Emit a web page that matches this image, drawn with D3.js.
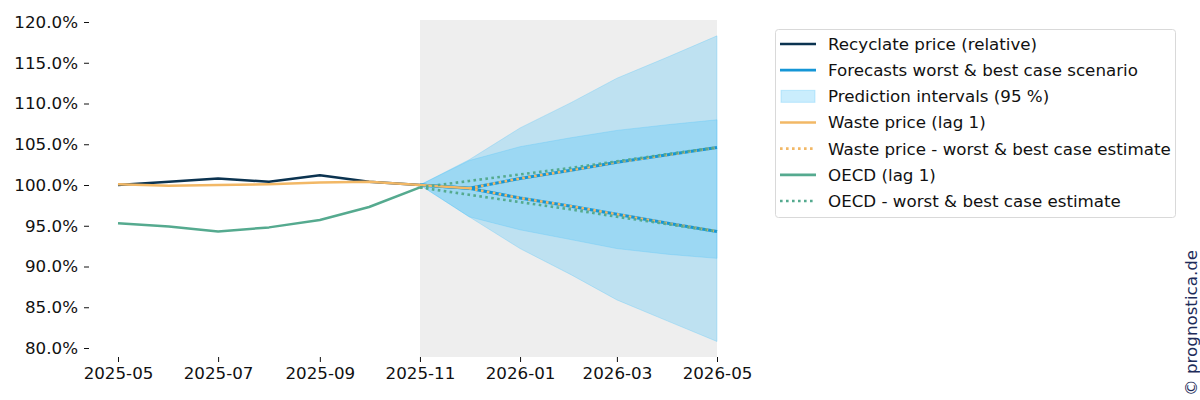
<!DOCTYPE html>
<html>
<head>
<meta charset="utf-8">
<script src="https://cdnjs.cloudflare.com/ajax/libs/d3/7.8.5/d3.min.js"></script>
<style>
  body { margin: 0; background: #fff; }
  svg text { font-family: "DejaVu Sans", sans-serif; }
</style>
</head>
<body>
<svg id="chart" width="1200" height="400"></svg>
<script>
// ---- data ----
var histMonths = ["2025-05","2025-06","2025-07","2025-08","2025-09","2025-10","2025-11"];
var recyclate  = [100.0, 100.4, 100.8, 100.4, 101.2, 100.4, 100.0];
var wasteHist  = [100.1, 99.9, 100.0, 100.1, 100.3, 100.4, 100.0];
var oecdHist   = [95.3, 94.9, 94.3, 94.8, 95.7, 97.3, 99.7];

var fcMonths   = ["2025-11","2025-12","2026-01","2026-02","2026-03","2026-04","2026-05"];
var fcBest     = [100.0, 99.6, 100.8, 101.8, 102.8, 103.7, 104.6];
var fcWorst    = [100.0, 99.6, 98.4, 97.4, 96.4, 95.3, 94.3];
var wasteFcStart = 99.6;   // solid waste line runs to 2025-12
var oecdBest   = [99.7, 100.5, 101.3, 102.1, 102.9, 103.8, 104.6];
var oecdWorst  = [99.7, 98.8, 97.9, 97.0, 96.1, 95.2, 94.3];

// prediction intervals (one band per scenario)
var piBestHi   = [100.0, 103.1, 107.0, 110.1, 113.1, 115.7, 118.3];
var piBestLo   = [100.0, 96.1, 94.5, 93.3, 92.2, 91.5, 91.0];
var piWorstHi  = [100.0, 103.0, 104.7, 105.8, 106.7, 107.4, 108.0];
var piWorstLo  = [100.0, 96.1, 92.2, 89.0, 85.9, 83.3, 80.8];

var xTicks = ["2025-05","2025-07","2025-09","2025-11","2026-01","2026-03","2026-05"];
var yTicks = [80, 85, 90, 95, 100, 105, 110, 115, 120];

var legendLabels = ["Recyclate price (relative)", "Forecasts worst & best case scenario",
  "Prediction intervals (95 %)", "Waste price (lag 1)", "Waste price - worst & best case estimate",
  "OECD (lag 1)", "OECD - worst & best case estimate"];

// ---- colours ----
var cNavy = "#0b3350", cBlue = "#1596d6", cOrange = "#f2b866", cGreen = "#55aa8f";
var cBand = "#4fc3f7";

var parse = d3.timeParse("%Y-%m");
var svg = d3.select("#chart");
var fs = "16.7px";

var x = d3.scaleTime()
  .domain([parse("2025-05"), parse("2026-05")])
  .range([118, 717]);
var y = d3.scaleLinear()
  .domain([80, 120])
  .range([348, 22]);

var plotLeft = 89, plotTop = 20, plotBottom = 357;

// forecast shading
svg.append("rect")
  .attr("x", x(parse("2025-11")))
  .attr("y", plotTop)
  .attr("width", x(parse("2026-05")) - x(parse("2025-11")))
  .attr("height", plotBottom - plotTop)
  .attr("fill", "#eeeeee");

function pts(months, vals) {
  return months.map(function(m, i) { return { d: parse(m), v: vals[i] }; });
}

var area = d3.area()
  .x(function(p) { return x(p.d); })
  .y0(function(p) { return y(p.lo); })
  .y1(function(p) { return y(p.hi); });

[[piBestLo, piBestHi], [piWorstLo, piWorstHi]].forEach(function(b) {
  var data = fcMonths.map(function(m, i) { return { d: parse(m), lo: b[0][i], hi: b[1][i] }; });
  svg.append("path")
    .datum(data)
    .attr("d", area)
    .attr("fill", cBand)
    .attr("fill-opacity", 0.3)
    .attr("stroke", cBand)
    .attr("stroke-opacity", 0.3)
    .attr("stroke-width", 1);
});

var line = d3.line()
  .x(function(p) { return x(p.d); })
  .y(function(p) { return y(p.v); });

function drawLine(data, color, dotted, w) {
  var p = svg.append("path")
    .datum(data)
    .attr("d", line)
    .attr("fill", "none")
    .attr("stroke", color)
    .attr("stroke-width", w || 2.5)
    .attr("stroke-linejoin", "round");
  if (dotted) p.attr("stroke-dasharray", "2.6,3.4");
  return p;
}

// forecast scenario lines
drawLine(pts(fcMonths, fcBest), cBlue, false, 3);
drawLine(pts(fcMonths, fcWorst), cBlue, false, 3);

// history
drawLine(pts(histMonths, oecdHist), cGreen);
drawLine(pts(histMonths, recyclate), cNavy);
drawLine(pts(histMonths.concat(["2025-12"]), wasteHist.concat([wasteFcStart])), cOrange);

// waste estimates (dotted, from 2025-12)
drawLine(pts(fcMonths.slice(1), fcBest.slice(1)), cOrange, true, 2.6);
drawLine(pts(fcMonths.slice(1), fcWorst.slice(1)), cOrange, true, 2.6);

// OECD estimates
drawLine(pts(fcMonths, oecdBest), cGreen, true, 2.6);
drawLine(pts(fcMonths, oecdWorst), cGreen, true, 2.6);

// axes
var xAxis = d3.axisBottom(x)
  .tickValues(xTicks.map(parse))
  .tickFormat(d3.timeFormat("%Y-%m"))
  .tickSize(5).tickPadding(5);
var gx = svg.append("g").attr("transform", "translate(0," + plotBottom + ")").call(xAxis);
gx.select(".domain").remove();
gx.selectAll("text").attr("font-size", fs).attr("fill", "#111").attr("font-family", "DejaVu Sans");
gx.selectAll("line").attr("stroke", "#111");

var yAxis = d3.axisLeft(y)
  .tickValues(yTicks)
  .tickFormat(function(v) { return v.toFixed(1) + "%"; })
  .tickSize(5).tickPadding(6);
var gy = svg.append("g").attr("transform", "translate(" + plotLeft + ",0)").call(yAxis);
gy.select(".domain").remove();
gy.selectAll("text").attr("font-size", fs).attr("fill", "#111").attr("font-family", "DejaVu Sans");
gy.selectAll("line").attr("stroke", "#111");

// legend
var lg = svg.append("g");
lg.append("rect")
  .attr("x", 775.5).attr("y", 29.5)
  .attr("width", 400).attr("height", 188)
  .attr("rx", 3)
  .attr("fill", "#fff")
  .attr("stroke", "#d9d9d9");

var legendStyle = [
  { type: "line", color: cNavy },
  { type: "line", color: cBlue },
  { type: "patch", color: cBand },
  { type: "line", color: cOrange },
  { type: "dot", color: cOrange },
  { type: "line", color: cGreen },
  { type: "dot", color: cGreen }
];
var ly = d3.scaleLinear().domain([0, 6]).range([44, 201]);

legendLabels.forEach(function(lbl, i) {
  var s = legendStyle[i], cy = ly(i);
  if (s.type === "patch") {
    lg.append("rect")
      .attr("x", 781).attr("y", cy - 6)
      .attr("width", 34).attr("height", 12)
      .attr("fill", s.color).attr("fill-opacity", 0.3)
      .attr("stroke", s.color).attr("stroke-opacity", 0.3);
  } else {
    var l = lg.append("line")
      .attr("x1", 780).attr("x2", 816)
      .attr("y1", cy).attr("y2", cy)
      .attr("stroke", s.color)
      .attr("stroke-width", 2.6);
    if (s.type === "dot") l.attr("stroke-dasharray", "2.6,3.4");
  }
  lg.append("text")
    .attr("x", 828).attr("y", cy)
    .attr("dy", "0.35em")
    .attr("font-size", fs)
    .attr("fill", "#111")
    .text(lbl);
});

// watermark
svg.append("text")
  .attr("transform", "translate(1197,396) rotate(-90)")
  .attr("font-size", fs)
  .attr("fill", "#1e2c5a")
  .text("© prognostica.de");
</script>
</body>
</html>
